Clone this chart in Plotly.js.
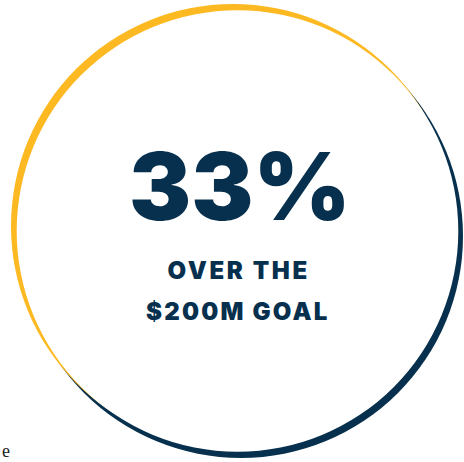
<!DOCTYPE html>
<html>
<head>
<meta charset="utf-8">
<script src="https://cdn.plot.ly/plotly-3.0.1.min.js"></script>
<style>
html,body{margin:0;padding:0;background:#fff;}
#chart{width:464px;height:462px;}
</style>
</head>
<body>
<div id="chart"></div>
<script>
// Data
var percentOver = [33];
var goalLabels = ["OVER THE", "$200M GOAL"];
var strayText = ["e"];

var navy = "#06304d";
var gold = "#fdb922";

var W = 464, H = 462;

var shapes = [
  {type:"circle", xref:"x", yref:"y", x0:241-222, x1:241+222, y0:236-222, y1:236+222,
   fillcolor:navy, line:{width:0}, layer:"below"},
  {type:"circle", xref:"x", yref:"y", x0:233-222, x1:233+222, y0:226-222, y1:226+222,
   fillcolor:gold, line:{width:0}, layer:"below"},
  {type:"circle", xref:"x", yref:"y", x0:237.5-220.8, x1:237.5+220.8, y0:231-220.8, y1:231+220.8,
   fillcolor:"#ffffff", line:{width:0}, layer:"below"}
];

var annotations = [
  {xref:"x", yref:"y", x:240, y:186, text:percentOver[0] + "%", showarrow:false,
   xanchor:"center", yanchor:"middle",
   font:{family:"Inter, Lato, sans-serif", size:93, color:navy, weight:900}},
  {xref:"x", yref:"y", x:238, y:270, text:goalLabels[0], showarrow:false,
   xanchor:"center", yanchor:"middle",
   font:{family:"Inter, Lato, sans-serif", size:24, color:navy, weight:900}},
  {xref:"x", yref:"y", x:238, y:311, text:goalLabels[1], showarrow:false,
   xanchor:"center", yanchor:"middle",
   font:{family:"Inter, Lato, sans-serif", size:24, color:navy, weight:900}},
  {xref:"paper", yref:"y", x:0, y:451, text:strayText[0], showarrow:false,
   xanchor:"left", yanchor:"middle",
   font:{family:"Liberation Serif, serif", size:18, color:"#222222"}}
];

var layout = {
  width:W, height:H,
  margin:{l:0,r:0,t:0,b:0,pad:0},
  paper_bgcolor:"#ffffff", plot_bgcolor:"#ffffff",
  xaxis:{range:[0,W], visible:false, fixedrange:true},
  yaxis:{range:[H,0], visible:false, fixedrange:true},
  shapes:shapes,
  annotations:annotations,
  showlegend:false
};

Plotly.newPlot("chart", [{x:[0], y:[0], type:"scatter", mode:"markers", marker:{opacity:0}, hoverinfo:"skip"}], layout, {staticPlot:true, displayModeBar:false}).then(function(){
  var texts = document.querySelectorAll(".annotation-text");
  if (texts[1]) texts[1].style.letterSpacing = "2.6px";
  if (texts[2]) texts[2].style.letterSpacing = "2.2px";
});
</script>
</body>
</html>
